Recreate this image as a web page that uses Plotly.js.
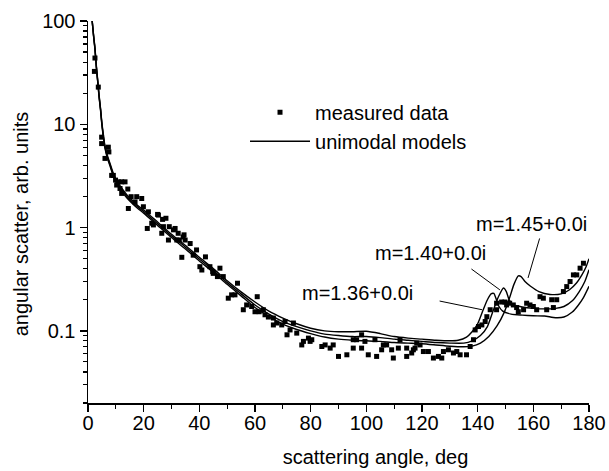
<!DOCTYPE html>
<html>
<head>
<meta charset="utf-8">
<script src="https://cdn.plot.ly/plotly-3.0.1.min.js"></script>
<style>html,body{margin:0;padding:0;background:#fff;}#chart{width:609px;height:471px;}</style>
</head>
<body>
<div id="chart"></div>
<script>
// measured data
const measAngle = [2.3,2.5,3.7,4.9,4.9,6.1,7.3,7.5,8.5,9.1,9.9,10.3,10.9,11.5,12.1,12.1,13.3,14.3,14.5,15.5,16.9,17.5,19.3,19.9,21.3,21.7,22.9,23.5,25.0,25.3,26.5,26.8,27.1,28.0,28.9,29.2,30.7,31.3,31.9,32.4,32.8,33.7,34.2,34.5,34.9,36.7,37.8,39.0,40.2,40.9,42.2,43.8,44.8,45.0,46.5,47.4,48.6,50.4,51.6,52.8,53.7,55.8,57.0,58.8,60.0,60.8,61.5,63.0,63.6,64.8,66.6,66.6,67.8,69.6,70.8,71.5,72.6,73.8,75.0,76.8,77.4,79.2,79.8,80.4,84.0,85.2,87.0,88.1,90.0,93.0,95.3,95.3,96.5,98.3,98.3,99.5,100.7,103.1,103.7,105.5,106.1,107.3,109.1,109.7,111.5,112.1,114.5,114.5,116.3,116.9,117.5,118.1,119.3,120.5,122.3,124.1,125.9,127.1,127.7,129.5,131.3,132.5,133.7,136.0,137.3,138.5,139.1,140.3,141.5,142.7,143.3,144.5,146.8,146.8,148.6,149.8,150.4,151.5,152.8,154.0,154.6,156.5,157.6,158.8,160.0,161.2,162.4,163.6,164.8,166.6,167.2,168.4,170.8,172.0,173.2,174.4,175.6,176.8,178.0];
const measValue = [32.5,43.8,22.9,7.5,6.5,4.67,6.0,5.4,3.2,3.2,2.88,2.58,2.77,2.39,2.77,2.14,2.77,2.36,1.53,1.99,1.77,1.99,1.91,1.59,0.98,1.42,1.10,1.06,1.34,1.32,0.88,1.20,1.02,1.23,0.757,1.02,0.95,0.98,0.757,0.88,0.757,0.515,0.81,0.85,0.757,0.70,0.54,0.607,0.418,0.388,0.52,0.418,0.374,0.36,0.335,0.404,0.335,0.207,0.223,0.223,0.289,0.16,0.178,0.172,0.153,0.214,0.153,0.16,0.143,0.136,0.133,0.114,0.119,0.114,0.123,0.0915,0.102,0.119,0.095,0.073,0.079,0.085,0.079,0.082,0.0705,0.073,0.068,0.073,0.0565,0.0586,0.068,0.082,0.082,0.0915,0.068,0.079,0.0586,0.082,0.0565,0.0655,0.073,0.073,0.0655,0.0545,0.068,0.082,0.0565,0.068,0.061,0.0655,0.068,0.076,0.073,0.063,0.063,0.0545,0.0565,0.0545,0.063,0.0655,0.061,0.063,0.0586,0.0586,0.0705,0.082,0.102,0.11,0.114,0.123,0.137,0.16,0.16,0.185,0.19,0.19,0.178,0.185,0.178,0.168,0.153,0.16,0.185,0.178,0.172,0.16,0.214,0.207,0.16,0.2,0.168,0.2,0.24,0.268,0.3,0.348,0.348,0.404,0.451];

// unimodal models
const angle136 = [1.5,2,2.5,3,3.5,4,4.5,5,6,7,8,9,10,12,14,16,18,20,25,30,35,40,45,50,55,60,65,70,75,80,85,90,95,100,105,110,115,120,125,130,133,136,138,140,142,143.5,144.8,145.8,146.6,147.5,149,152,156,160,164,168,171,174,176,178,180];
const model136 = [100,73,55,37,26.5,19,14.3,10.3,6.4,4.95,4.1,3.4,2.95,2.43,2.07,1.82,1.62,1.48,1.13,0.86,0.67,0.515,0.40,0.305,0.238,0.19,0.155,0.133,0.117,0.106,0.1,0.098,0.098,0.099,0.094,0.088,0.085,0.083,0.081,0.08,0.081,0.087,0.098,0.117,0.16,0.2,0.228,0.23,0.205,0.175,0.155,0.145,0.142,0.14,0.139,0.134,0.136,0.152,0.175,0.21,0.27];
const angle140 = [1.5,2,2.5,3,3.5,4,4.5,5,6,7,8,9,10,12,14,16,18,20,25,30,35,40,45,50,55,60,65,70,75,80,85,90,95,100,105,110,115,120,125,130,135,138,141,143.5,145.5,147.5,149.3,150.3,151.3,153,156,160,164,168,171,174,176.5,178.5,180];
const model140 = [100,72,54,36,26,18.5,14,10,6.2,4.8,4.0,3.3,2.85,2.35,2.0,1.76,1.57,1.43,1.09,0.83,0.645,0.495,0.385,0.293,0.228,0.178,0.145,0.123,0.11,0.1,0.093,0.09,0.088,0.088,0.086,0.083,0.081,0.079,0.077,0.076,0.076,0.08,0.09,0.11,0.155,0.215,0.26,0.24,0.2,0.178,0.17,0.165,0.163,0.165,0.172,0.195,0.24,0.3,0.39];
const angle145 = [1.5,2,2.5,3,3.5,4,4.5,5,6,7,8,9,10,12,14,16,18,20,25,30,35,40,45,50,55,60,65,70,75,80,85,90,95,100,105,110,115,120,125,130,135,138,141,144,147,149.5,151.5,153,154.6,155.6,157,159,162,166,170,173,175.5,177.5,179,180];
const model145 = [100,71,53,35.5,25.5,18,13.7,9.8,6.05,4.65,3.88,3.2,2.76,2.27,1.93,1.70,1.52,1.38,1.05,0.80,0.62,0.475,0.37,0.282,0.218,0.168,0.137,0.116,0.103,0.094,0.087,0.083,0.081,0.08,0.079,0.077,0.076,0.075,0.073,0.071,0.07,0.071,0.076,0.088,0.112,0.15,0.21,0.28,0.34,0.335,0.3,0.27,0.24,0.225,0.228,0.25,0.29,0.35,0.42,0.5];

// tick labels
const xTicks = [0,20,40,60,80,100,120,140,160,180];
const yTickVals = [0.1,1,10,100];
const yTickText = ['0.1','1','10','100'];
const yMinorVals = [0.02,0.03,0.04,0.05,0.06,0.07,0.08,0.09,0.2,0.3,0.4,0.5,0.6,0.7,0.8,0.9,2,3,4,5,6,7,8,9,20,30,40,50,60,70,80,90];

const FONT = 'Liberation Sans, Arial, Helvetica, sans-serif';
const lineStyle = {color:'#000', width:1.4, shape:'spline', smoothing:0.6};

const traces = [
  {x: angle136, y: model136, mode:'lines', line: lineStyle, name:'unimodal models', legendgroup:'m', showlegend:false},
  {x: angle140, y: model140, mode:'lines', line: lineStyle, name:'unimodal models', legendgroup:'m', showlegend:false},
  {x: angle145, y: model145, mode:'lines', line: lineStyle, name:'unimodal models', legendgroup:'m', showlegend:false},
  {x: measAngle, y: measValue, mode:'markers', marker:{symbol:'square', size:5, color:'#000'}, name:'measured data'},
  {x:[null], y:[null], mode:'lines', line:{color:'#000', width:1.4}, name:'unimodal models', legendgroup:'m'}
];

function ann(text, x, ylin) {
  return {text:text, x:x, y:Math.log10(ylin), xref:'x', yref:'y', showarrow:false, font:{family:FONT, size:20, color:'#000'}};
}
function ptr(x, ylin, ax, ay) {
  return {text:'', x:x, y:Math.log10(ylin), xref:'x', yref:'y', showarrow:true, arrowhead:0, arrowwidth:1, arrowcolor:'#000', ax:ax, ay:ay, standoff:0};
}

const layout = {
  width:609, height:471,
  margin:{l:88, r:20, t:21, b:68},
  paper_bgcolor:'#fff', plot_bgcolor:'#fff',
  font:{family:FONT, size:20, color:'#000'},
  showlegend:true,
  legend:{x:0.3134, y:0.812, xanchor:'left', yanchor:'top', bgcolor:'rgba(0,0,0,0)', borderwidth:0, itemwidth:60, font:{family:FONT, size:20, color:'#000'}, tracegroupgap:0},
  xaxis:{
    range:[0,180], tickvals:xTicks, ticks:'outside', ticklen:7, tickwidth:1.5, tickcolor:'#000',
    showline:true, linecolor:'#000', linewidth:1.5, showgrid:false, zeroline:false, mirror:false,
    minor:{dtick:10, tick0:0, ticks:'outside', ticklen:4, tickwidth:1.2, tickcolor:'#000', showgrid:false},
    tickfont:{family:FONT, size:20, color:'#000'}, ticklabelstandoff:-6,
    title:{text:'scattering angle, deg', font:{family:FONT, size:20, color:'#000'}, standoff:17}
  },
  yaxis:{
    type:'log', range:[Math.log10(0.02), 2], tickmode:'array', tickvals:yTickVals, ticktext:yTickText,
    ticks:'outside', ticklen:7, tickwidth:1.5, tickcolor:'#000',
    showline:true, linecolor:'#000', linewidth:1.5, showgrid:false, zeroline:false, mirror:false,
    minor:{tickmode:'array', tickvals:yMinorVals, ticks:'outside', ticklen:4, tickwidth:1.2, tickcolor:'#000', showgrid:false},
    tickfont:{family:FONT, size:20, color:'#000'},
    title:{text:'angular scatter, arb. units', font:{family:FONT, size:20, color:'#000'}, standoff:8}
  },
  annotations:[
    ann('m=1.45+0.0i', 159.4, 1.08),
    ann('m=1.40+0.0i', 122.9, 0.568),
    ann('m=1.36+0.0i', 96.8, 0.233),
    ptr(158.1, 0.325, 12, -41),
    ptr(148.0, 0.249, -30, -22),
    ptr(141.6, 0.16, -44, -9)
  ]
};

Plotly.newPlot('chart', traces, layout, {staticPlot:true, displayModeBar:false}).then(function(){
  const xt = document.querySelector('.xtitle');
  if (xt) xt.setAttribute('transform', 'translate(37,0)');
  const yt = document.querySelector('.ytitle');
  if (yt) { const t = yt.getAttribute('transform') || ''; yt.setAttribute('transform', 'translate(0,12) ' + t); }
});
</script>
</body>
</html>
